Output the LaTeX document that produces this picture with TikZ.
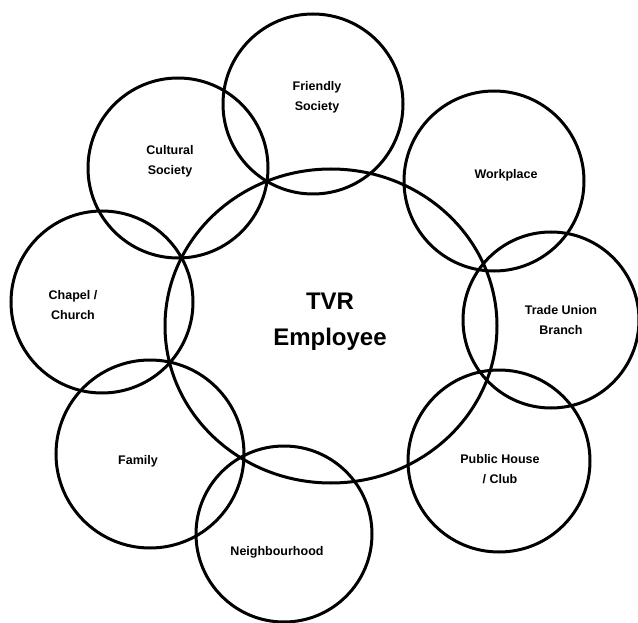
\documentclass[tikz,border=0pt]{standalone}
\usepackage{fontspec}
\setmainfont{Liberation Sans}
\usetikzlibrary{shapes.geometric}

\begin{document}
\begin{tikzpicture}[x=1pt,y=-1pt,
  ring/.style={draw, circle, line width=3pt, inner sep=0pt},
  lbl/.style={align=center, font=\fontsize{12.5}{20}\selectfont\bfseries}]
\useasboundingbox (0,0) rectangle (638,623);
\node[draw, ellipse, line width=3pt, minimum width=332pt, minimum height=314pt] (tvr) at (331,326){};
\node[ring, minimum size=180pt] (friendly) at (313,104){};
\node[ring, minimum size=180pt] (cultural) at (178,168){};
\node[ring, minimum size=180pt] (workplace) at (494,181){};
\node[ring, minimum size=182pt] (chapel) at (102,302){};
\node[ring, minimum size=176pt] (union) at (551,320){};
\node[ring, minimum size=188pt] (family) at (150,454){};
\node[ring, minimum size=182pt] (pub) at (499,461){};
\node[ring, minimum size=176pt] (neighbour) at (284,534){};
\node[align=center, font=\fontsize{24}{36}\selectfont\bfseries] (tvrtxt) at (330,322){TVR\\Employee};
\node[lbl] (friendlytxt) at (317,97){Friendly\\Society};
\node[lbl] (culturaltxt) at (170,161){Cultural\\Society};
\node[lbl] (workplacetxt) at (506,175){Workplace};
\node[lbl] (chapeltxt) at (73,305){Chapel /\\Church};
\node[lbl] (uniontxt) at (561,320){Trade Union\\Branch};
\node[lbl] (familytxt) at (138,461){Family};
\node[lbl] (pubtxt) at (500,469){Public House\\/ Club};
\node[lbl] (neighbourtxt) at (277,552){Neighbourhood};
\end{tikzpicture}
\end{document}
